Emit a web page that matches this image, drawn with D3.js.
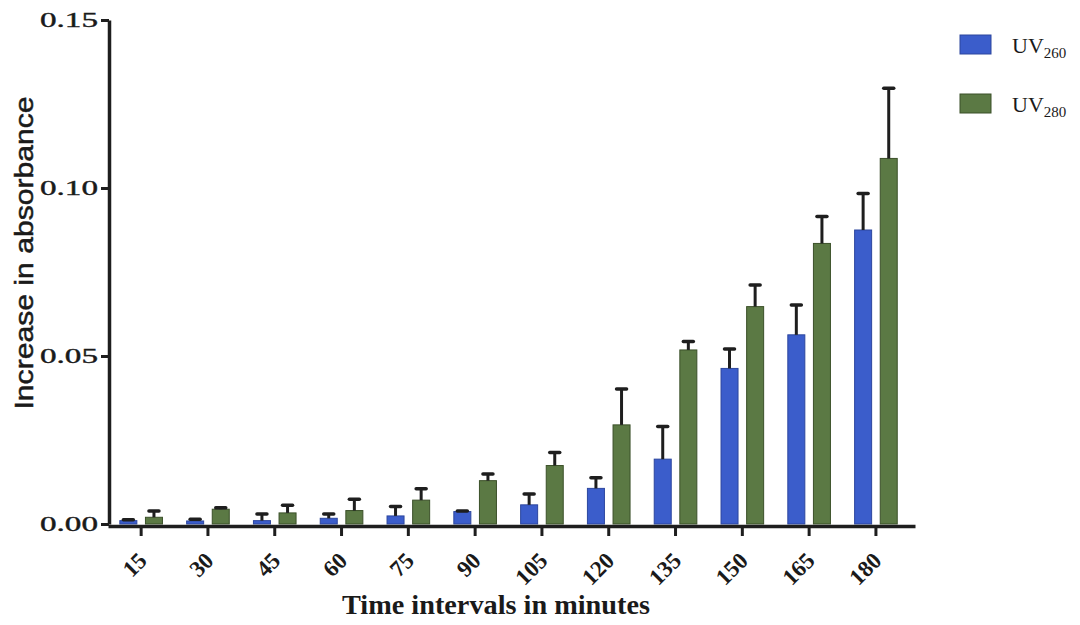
<!DOCTYPE html>
<html>
<head>
<meta charset="utf-8">
<script src="https://cdn.jsdelivr.net/npm/d3@7"></script>
<style>
  html, body { margin: 0; padding: 0; background: #fff; }
  svg { display: block; }
</style>
</head>
<body>
<svg id="chart" width="1080" height="625"></svg>
<script>
// Absorbance increase per time interval (minutes), mean and error (SD)
const categories = ['15', '30', '45', '60', '75', '90', '105', '120', '135', '150', '165', '180'];
const seriesKeys = ['UV260', 'UV280'];
const uv260 = [0.0010, 0.0009, 0.0010, 0.0017, 0.0024, 0.0037, 0.0057, 0.0106, 0.0193, 0.0463, 0.0563, 0.0875];
const uv260Err = [0.0003, 0.0005, 0.0020, 0.0013, 0.0028, 0.0002, 0.0032, 0.0032, 0.0097, 0.0058, 0.0089, 0.0109];
const uv280 = [0.0020, 0.0044, 0.0033, 0.0040, 0.0071, 0.0129, 0.0174, 0.0295, 0.0518, 0.0647, 0.0835, 0.1088];
const uv280Err = [0.0019, 0.0004, 0.0023, 0.0034, 0.0034, 0.0020, 0.0039, 0.0107, 0.0025, 0.0064, 0.0080, 0.0209];
const yTicks = [0, 0.05, 0.10, 0.15];

const colors = { UV260: '#3b5dcb', UV280: '#5b7944' };
const strokes = { UV260: '#2c469e', UV280: '#3b5029' };
const axisColor = '#1e1e1e';

const rows = categories.map((c, i) => ({
  cat: c,
  vals: [
    { key: 'UV260', v: uv260[i], e: uv260Err[i] },
    { key: 'UV280', v: uv280[i], e: uv280Err[i] }
  ]
}));

const svg = d3.select('#chart');

const x0 = d3.scaleBand().domain(categories).range([108, 915])
  .paddingInner(0.362).paddingOuter(0.2216).align(0.4);
const x1 = d3.scaleBand().domain(seriesKeys).range([0, x0.bandwidth()])
  .paddingInner(0.336).paddingOuter(0);
const y = d3.scaleLinear().domain([0, 0.15]).range([524, 20]);

// Bars
const groups = svg.append('g').selectAll('g').data(rows).join('g')
  .attr('transform', d => `translate(${x0(d.cat)},0)`);

groups.selectAll('rect').data(d => d.vals).join('rect')
  .attr('x', d => x1(d.key))
  .attr('y', d => y(d.v))
  .attr('width', x1.bandwidth())
  .attr('height', d => y(0) - y(d.v))
  .attr('fill', d => colors[d.key])
  .attr('stroke', d => strokes[d.key])
  .attr('stroke-width', 1);

// Error bars (upper only)
const eb = groups.selectAll('g.err').data(d => d.vals).join('g').attr('class', 'err');
eb.append('line')
  .attr('x1', d => x1(d.key) + x1.bandwidth() / 2)
  .attr('x2', d => x1(d.key) + x1.bandwidth() / 2)
  .attr('y1', d => y(d.v))
  .attr('y2', d => y(d.v + d.e))
  .attr('stroke', axisColor).attr('stroke-width', 3);
eb.append('line')
  .attr('x1', d => x1(d.key) + x1.bandwidth() / 2 - 5)
  .attr('x2', d => x1(d.key) + x1.bandwidth() / 2 + 5)
  .attr('y1', d => y(d.v + d.e))
  .attr('y2', d => y(d.v + d.e))
  .attr('stroke', axisColor).attr('stroke-width', 3.5).attr('stroke-linecap', 'round');

// Y axis
const yAxis = svg.append('g').attr('transform', 'translate(109,0)')
  .call(d3.axisLeft(y).tickValues(yTicks).tickFormat(d3.format('.2f')).tickSize(8).tickSizeOuter(0).tickPadding(3));
yAxis.select('.domain').attr('stroke', axisColor).attr('stroke-width', 3.5);
yAxis.selectAll('.tick line').attr('stroke', axisColor).attr('stroke-width', 3);
yAxis.selectAll('.tick text')
  .attr('font-family', '"Liberation Serif", "Times New Roman", serif')
  .attr('font-size', 21).attr('fill', '#1a1a1a')
  .attr('stroke', '#1a1a1a').attr('stroke-width', 0.4)
  .attr('textLength', 58).attr('lengthAdjust', 'spacingAndGlyphs');

// X axis
const xAxis = svg.append('g').attr('transform', 'translate(0,526)')
  .call(d3.axisBottom(x0).tickSize(10).tickSizeOuter(0));
xAxis.select('.domain').attr('stroke', axisColor).attr('stroke-width', 3.5);
xAxis.selectAll('.tick line').attr('stroke', axisColor).attr('stroke-width', 3);
xAxis.selectAll('.tick text')
  .attr('font-family', '"Liberation Serif", "Times New Roman", serif')
  .attr('font-weight', 'bold').attr('font-size', 23).attr('fill', '#1a1a1a')
  .attr('text-anchor', 'end')
  .attr('dy', 0).attr('y', 0)
  .attr('transform', 'translate(7,36) rotate(-45)');

// Axis titles
svg.append('text')
  .attr('x', 496).attr('y', 614)
  .attr('text-anchor', 'middle')
  .attr('font-family', '"Liberation Serif", "Times New Roman", serif')
  .attr('font-weight', 'bold').attr('font-size', 27).attr('fill', '#1a1a1a')
  .attr('textLength', 308).attr('lengthAdjust', 'spacingAndGlyphs')
  .text('Time intervals in minutes');

svg.append('text')
  .attr('transform', 'translate(33,253) rotate(-90)')
  .attr('text-anchor', 'middle')
  .attr('font-family', '"Liberation Sans", Arial, sans-serif')
  .attr('font-size', 26).attr('fill', '#1a1a1a')
  .attr('stroke', '#1a1a1a').attr('stroke-width', 0.5)
  .attr('textLength', 313).attr('lengthAdjust', 'spacingAndGlyphs')
  .text('Increase in absorbance');

// Legend
const legend = svg.append('g').selectAll('g').data(seriesKeys).join('g')
  .attr('transform', (d, i) => `translate(960,${35 + i * 59})`);
legend.append('rect')
  .attr('width', 31).attr('height', 19)
  .attr('fill', d => colors[d])
  .attr('stroke', d => strokes[d]).attr('stroke-width', 1);
const lt = legend.append('text')
  .attr('x', 52).attr('y', 18)
  .attr('font-family', '"Liberation Serif", "Times New Roman", serif')
  .attr('font-size', 22).attr('fill', '#1a1a1a');
lt.append('tspan').text('UV');
lt.append('tspan').attr('font-size', 15).attr('dy', 5).text(d => d.slice(2));
</script>
</body>
</html>
